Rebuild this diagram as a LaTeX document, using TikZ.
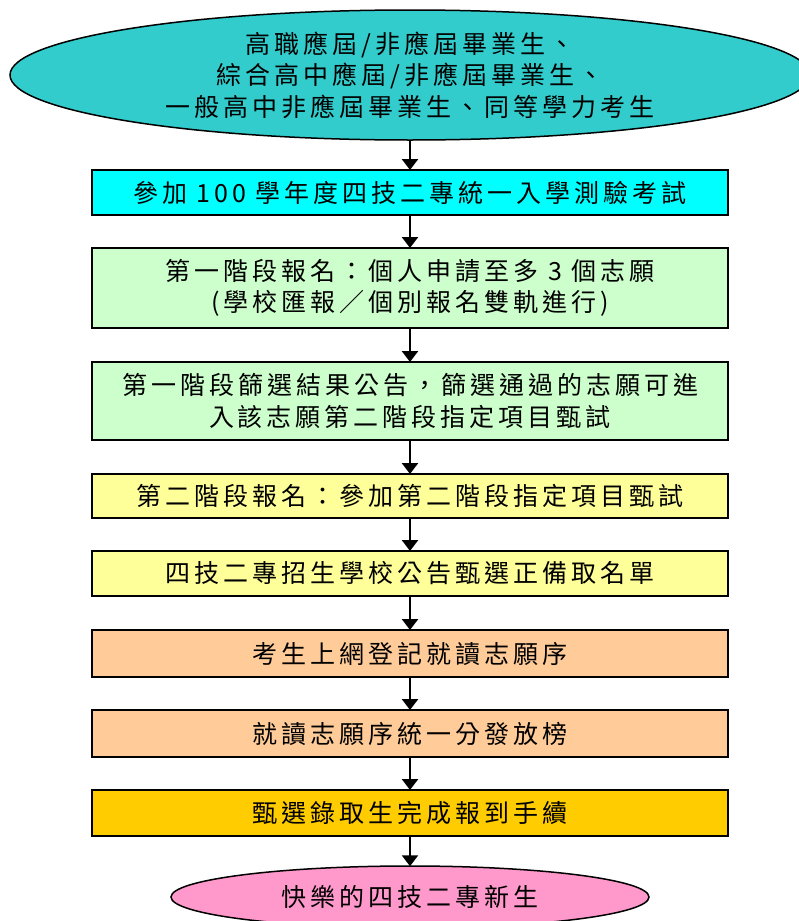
\documentclass[tikz,border=0pt]{standalone}
\usepackage{fontspec}
\usetikzlibrary{shapes.geometric,arrows.meta}
\newfontfamily\cjk[LetterSpace=16]{Noto Sans CJK TC}
\definecolor{ctop}{HTML}{33CCCC}
\definecolor{ccyan}{HTML}{00FFFF}
\definecolor{cgreen}{HTML}{CCFFCC}
\definecolor{cyellow}{HTML}{FFFF99}
\definecolor{cpeach}{HTML}{FFCC99}
\definecolor{cgold}{HTML}{FFCC00}
\definecolor{cpink}{HTML}{FF99CC}
\begin{document}
\begin{tikzpicture}[x=1pt,y=-1pt,
  every node/.style={font=\cjk\fontsize{25}{31.5}\selectfont, align=center, text=black},
  stepbox/.style={draw=black, line width=2pt, minimum width=636pt, inner sep=0pt},
  oval/.style={ellipse, draw=black, line width=1.5pt, inner sep=0pt},
  flow/.style={-{Triangle[width=16pt,length=11pt]}, line width=2.5pt, black, shorten >=-1pt}]
\useasboundingbox (0,0) rectangle (799,921);
\clip (0,0) rectangle (799,921);
\fill[white] (0,0) rectangle (799,921);
\node[oval, fill=ctop, minimum width=800pt, minimum height=130pt] (e0) at (410,75)
  {高職應屆/非應屆畢業生、\\綜合高中應屆/非應屆畢業生、\\一般高中非應屆畢業生、同等學力考生};
\node[stepbox, fill=ccyan, minimum height=45pt] (b1) at (410,192.5) {參加 100 學年度四技二專統一入學測驗考試};
\node[stepbox, fill=cgreen, minimum height=80pt] (b2) at (410,288) {第一階段報名：個人申請至多 3 個志願\\(學校匯報／個別報名雙軌進行)};
\node[stepbox, fill=cgreen, minimum height=78pt] (b3) at (410,401) {第一階段篩選結果公告，篩選通過的志願可進\\入該志願第二階段指定項目甄試};
\node[stepbox, fill=cyellow, minimum height=44pt] (b4) at (410,496) {第二階段報名：參加第二階段指定項目甄試};
\node[stepbox, fill=cyellow, minimum height=45pt] (b5) at (410,573.5) {四技二專招生學校公告甄選正備取名單};
\node[stepbox, fill=cpeach, minimum height=47pt] (b6) at (410,653.5) {考生上網登記就讀志願序};
\node[stepbox, fill=cpeach, minimum height=47pt] (b7) at (410,733.5) {就讀志願序統一分發放榜};
\node[stepbox, fill=cgold, minimum height=46pt] (b8) at (410,813) {甄選錄取生完成報到手續};
\node[oval, fill=cpink, minimum width=478pt, minimum height=62pt] (e9) at (410,897) {快樂的四技二專新生};
\draw[flow] (e0.south) -- (b1.north);
\draw[flow] (b1.south) -- (b2.north);
\draw[flow] (b2.south) -- (b3.north);
\draw[flow] (b3.south) -- (b4.north);
\draw[flow] (b4.south) -- (b5.north);
\draw[flow] (b5.south) -- (b6.north);
\draw[flow] (b6.south) -- (b7.north);
\draw[flow] (b7.south) -- (b8.north);
\draw[flow] (b8.south) -- (e9.north);
\end{tikzpicture}
\end{document}
